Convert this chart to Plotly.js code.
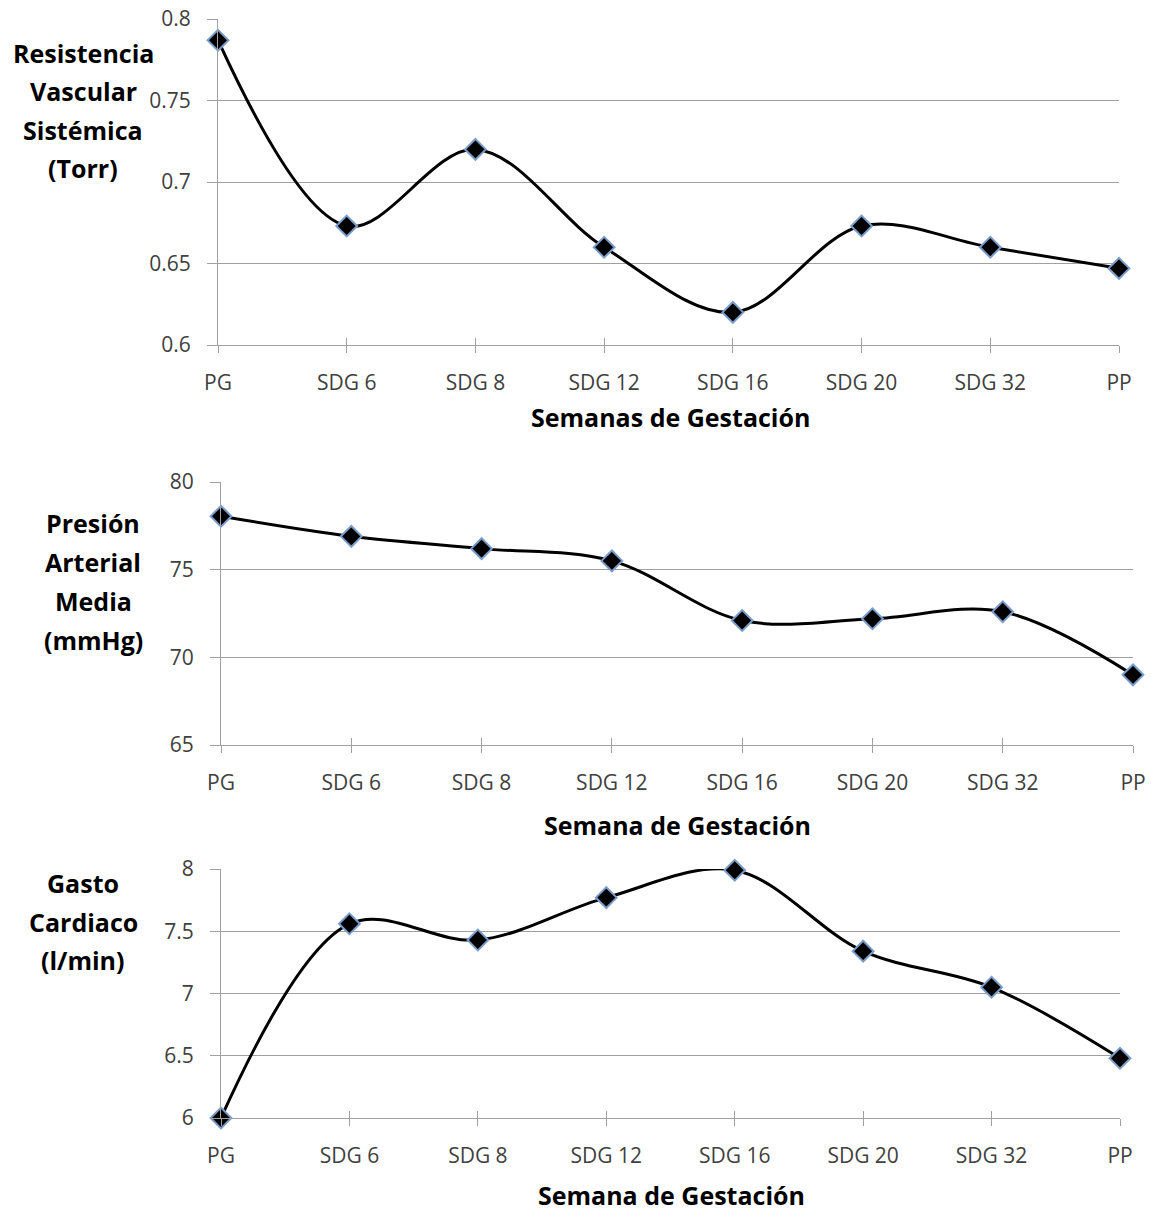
<!DOCTYPE html>
<html>
<head>
<meta charset="utf-8">
<script src="https://cdn.plot.ly/plotly-3.0.1.min.js"></script>
<style>html,body{margin:0;padding:0;background:#fff;}#chart{width:1151px;height:1211px;}</style>
</head>
<body>
<div id="chart"></div>
<script>
const categories = ['PG', 'SDG 6', 'SDG 8', 'SDG 12', 'SDG 16', 'SDG 20', 'SDG 32', 'PP'];
const resistencia = [0.787, 0.673, 0.720, 0.660, 0.620, 0.673, 0.660, 0.647];
const presion = [78.05, 76.9, 76.2, 75.5, 72.1, 72.2, 72.6, 69.0];
const gasto = [6.0, 7.56, 7.43, 7.77, 7.99, 7.34, 7.05, 6.48];

const yTitle1 = ['Resistencia', 'Vascular', 'Sistémica', '(Torr)'];
const yTitle2 = ['Presión', 'Arterial', 'Media', '(mmHg)'];
const yTitle3 = ['Gasto', 'Cardiaco', '(l/min)'];
const xTitle1 = 'Semanas de Gestación';
const xTitle2 = 'Semana de Gestación';
const xTitle3 = 'Semana de Gestación';

const W = 1151, H = 1211;
const fx = p => p / W;
const fy = p => 1 - p / H;

const FONT = 'Open Sans, Noto Sans, sans-serif';
const GRID = '#a0a0a0';

function trace(y, xa, ya) {
  return {
    x: categories, y: y, xaxis: xa, yaxis: ya,
    type: 'scatter', mode: 'lines+markers',
    line: {color: '#000', width: 3, shape: 'spline', smoothing: 1},
    marker: {symbol: 'diamond', size: 16, color: '#000', line: {color: '#7a9cc8', width: 2}},
    cliponaxis: false, hoverinfo: 'skip', showlegend: false
  };
}

const data = [
  trace(resistencia, 'x', 'y'),
  trace(presion, 'x2', 'y2'),
  trace(gasto, 'x3', 'y3'),
  {x: [0], y: [0], xaxis: 'x4', yaxis: 'y', mode: 'none', showlegend: false, hoverinfo: 'skip'},
  {x: [0], y: [0], xaxis: 'x5', yaxis: 'y2', mode: 'none', showlegend: false, hoverinfo: 'skip'},
  {x: [0], y: [0], xaxis: 'x6', yaxis: 'y3', mode: 'none', showlegend: false, hoverinfo: 'skip'}
];

function xaxis(dom, anchor) {
  return {
    domain: dom, anchor: anchor, type: 'category', range: [0, 7],
    showgrid: false, zeroline: false,
    showline: true, linecolor: GRID, linewidth: 1,
    ticks: 'outside', ticklen: 7, tickcolor: GRID, tickwidth: 1,
    tickfont: {family: FONT, size: 21, color: '#404040'},
    ticklabelstandoff: 12, fixedrange: true
  };
}
function xover(dom, anchor, over) {
  return {
    domain: dom, anchor: anchor, overlaying: over, type: 'linear', range: [0, 7],
    tickmode: 'linear', tick0: 0, dtick: 1,
    showgrid: false, zeroline: false, showline: false, showticklabels: false,
    ticks: 'inside', ticklen: 7, tickcolor: GRID, tickwidth: 1, fixedrange: true
  };
}
function yaxis(dom, anchor, range, dtick) {
  return {
    domain: dom, anchor: anchor, range: range, dtick: dtick, tick0: range[0],
    showgrid: true, gridcolor: GRID, gridwidth: 1, zeroline: false,
    showline: true, linecolor: GRID, linewidth: 1,
    ticks: 'outside', ticklen: 10, tickcolor: GRID, tickwidth: 1,
    tickfont: {family: FONT, size: 21, color: '#404040'},
    ticklabelstandoff: 12, fixedrange: true
  };
}

const xd1 = [fx(218), fx(1119)], yd1 = [fy(345), fy(19)];
const xd2 = [fx(221), fx(1133)], yd2 = [fy(745), fy(482)];
const xd3 = [fx(221), fx(1120)], yd3 = [fy(1118), fy(869)];

const annotations = [];
function lines(arr, cx, ys) {
  arr.forEach((t, i) => annotations.push({
    text: t, xref: 'paper', yref: 'paper', x: fx(cx), y: fy(ys[i]),
    xanchor: 'center', yanchor: 'middle', showarrow: false,
    font: {family: FONT, size: 25, color: '#000', weight: 'bold'}
  }));
}
lines(yTitle1, 83, [53, 91, 130, 168]);
lines(yTitle2, 93, [523, 562, 601, 640]);
lines(yTitle3, 83, [883, 922, 960]);
function xt(t, cx, cy) {
  annotations.push({
    text: t, xref: 'paper', yref: 'paper', x: fx(cx), y: fy(cy),
    xanchor: 'center', yanchor: 'middle', showarrow: false,
    font: {family: FONT, size: 25, color: '#000', weight: 'bold'}
  });
}
xt(xTitle1, 670, 417);
xt(xTitle2, 678, 825);
xt(xTitle3, 671, 1195);

const layout = {
  width: W, height: H,
  margin: {l: 0, r: 0, t: 0, b: 0},
  paper_bgcolor: '#fff', plot_bgcolor: 'rgba(0,0,0,0)',
  xaxis: xaxis(xd1, 'y'), yaxis: yaxis(yd1, 'x', [0.6, 0.8], 0.05),
  xaxis2: xaxis(xd2, 'y2'), yaxis2: yaxis(yd2, 'x2', [65, 80], 5),
  xaxis3: xaxis(xd3, 'y3'), yaxis3: yaxis(yd3, 'x3', [6, 8], 0.5),
  xaxis4: xover(xd1, 'y', 'x'),
  xaxis5: xover(xd2, 'y2', 'x2'),
  xaxis6: xover(xd3, 'y3', 'x3'),
  annotations: annotations,
  showlegend: false
};

Plotly.newPlot('chart', data, layout, {displayModeBar: false, staticPlot: true});
</script>
</body>
</html>
